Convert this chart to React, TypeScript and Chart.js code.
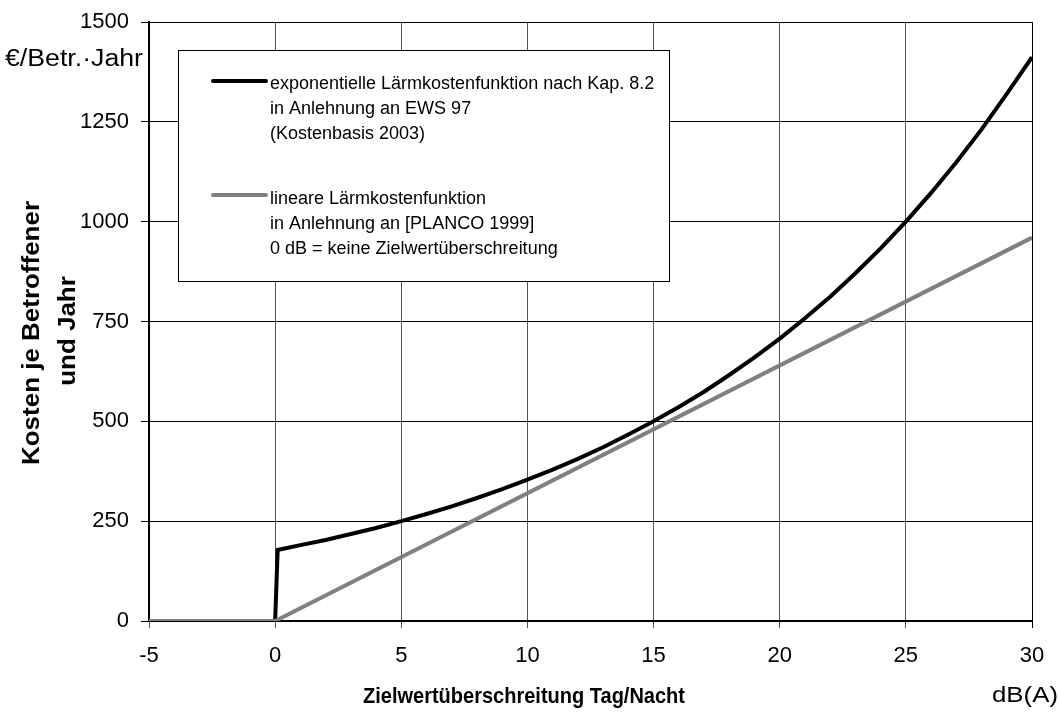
import React, { useEffect, useRef } from "react";
import { Chart, registerables } from "chart.js";

Chart.register(...registerables);

const expX = [-5, 0, 0.1, 1, 2, 3, 4, 5, 6, 7, 8, 9, 10, 11, 12, 13, 14, 15, 16, 17, 18, 19, 20, 21, 22, 23, 24, 25, 26, 27, 28, 29, 30];
const expY = [0, 0, 178, 190, 203, 218, 233, 250, 268, 287, 308, 330, 354, 379, 406, 435, 467, 500, 536, 574, 616, 660, 707, 758, 812, 871, 933, 1000, 1072, 1149, 1231, 1320, 1412];
const linX = [-5, 0, 30];
const linY = [0, 0, 960];

const legendExp = ["exponentielle Lärmkostenfunktion nach Kap. 8.2", "in Anlehnung an EWS 97", "(Kostenbasis 2003)"];
const legendLin = ["lineare Lärmkostenfunktion", "in Anlehnung an [PLANCO 1999]", "0 dB = keine Zielwertüberschreitung"];
const yTitle = ["Kosten je Betroffener", "und Jahr"];
const xTitle = "Zielwertüberschreitung Tag/Nacht";
const unitY = "€/Betr.·Jahr";
const unitX = "dB(A)";

const FONT = "'Liberation Sans', Arial, sans-serif";

function fitText(ctx: any, text: string, x: number, y: number, font: string, width: number, align: "left" | "center") {
  ctx.save();
  ctx.font = font;
  const w = ctx.measureText(text).width;
  const s = width / w;
  ctx.translate(x, y);
  ctx.scale(s, 1);
  ctx.textAlign = align;
  ctx.textBaseline = "middle";
  ctx.fillText(text, 0, 0);
  ctx.restore();
}

export default function App() {
  const ref = useRef<HTMLCanvasElement | null>(null);
  useEffect(() => {
    if (!ref.current) return;
    const overlay = {
      id: "overlay",
      afterDatasetsDraw(chart: any) {
        const ctx = chart.ctx;
        ctx.save();
        ctx.fillStyle = "#fff";
        ctx.fillRect(178, 50, 491, 231);
        ctx.strokeStyle = "#000";
        ctx.lineWidth = 1;
        ctx.strokeRect(178.5, 50.5, 491, 231);
        ctx.lineWidth = 4;
        ctx.lineCap = "round";
        ctx.strokeStyle = "#000";
        ctx.beginPath();
        ctx.moveTo(213, 81);
        ctx.lineTo(266, 81);
        ctx.stroke();
        ctx.strokeStyle = "#808080";
        ctx.beginPath();
        ctx.moveTo(213, 195);
        ctx.lineTo(266, 195);
        ctx.stroke();
        ctx.fillStyle = "#000";
        ctx.font = "18px " + FONT;
        ctx.textAlign = "left";
        ctx.textBaseline = "middle";
        legendExp.forEach((t, i) => ctx.fillText(t, 270, 84 + i * 25));
        legendLin.forEach((t, i) => ctx.fillText(t, 270, 199 + i * 25));
        ctx.restore();
      },
      afterDraw(chart: any) {
        const ctx = chart.ctx;
        ctx.save();
        ctx.fillStyle = "#000";
        fitText(ctx, unitY, 5, 60, "23px " + FONT, 138, "left");
        fitText(ctx, unitX, 1025, 696, "22px " + FONT, 66, "center");
        fitText(ctx, xTitle, 524, 697, "bold 22px " + FONT, 322, "center");
        ctx.font = "bold 24px " + FONT;
        const ratio = 264 / ctx.measureText(yTitle[0]).width;
        const w2 = ctx.measureText(yTitle[1]).width * ratio;
        ctx.save();
        ctx.translate(32, 333);
        ctx.rotate(-Math.PI / 2);
        fitText(ctx, yTitle[0], 0, 0, "bold 24px " + FONT, 264, "center");
        ctx.restore();
        ctx.save();
        ctx.translate(68, 331);
        ctx.rotate(-Math.PI / 2);
        fitText(ctx, yTitle[1], 0, 0, "bold 24px " + FONT, w2, "center");
        ctx.restore();
        ctx.restore();
      },
    };
    const chart = new Chart(ref.current, {
      type: "scatter",
      data: {
        datasets: [
          {
            data: linX.map((x, i) => ({ x, y: linY[i] })),
            showLine: true,
            borderColor: "#808080",
            borderWidth: 4,
            pointRadius: 0,
            tension: 0,
          },
          {
            data: expX.map((x, i) => ({ x, y: expY[i] })),
            showLine: true,
            borderColor: "#000",
            borderWidth: 4,
            pointRadius: 0,
            tension: 0,
          },
        ],
      },
      plugins: [overlay],
      options: {
        responsive: false,
        animation: false,
        devicePixelRatio: 1,
        layout: { padding: { left: 0, top: 22, right: 28, bottom: 0 } },
        plugins: { legend: { display: false }, tooltip: { enabled: false } },
        scales: {
          x: {
            type: "linear",
            min: -5,
            max: 30,
            afterFit: (s: any) => { s.height = 95; s.paddingLeft = 0; s.paddingRight = 0; },
            ticks: {
              stepSize: 5,
              color: "#000",
              font: { family: FONT, size: 22 },
              padding: 15,
              maxRotation: 0,
              callback: (v: any) => String(v),
            },
            grid: {
              color: (c: any) => (c.tick && c.tick.value === 30 ? "#000" : "#555"),
              lineWidth: 1,
              tickLength: 7,
            },
            border: { color: "#000", width: 2 },
          },
          y: {
            type: "linear",
            min: 0,
            max: 1500,
            afterFit: (s: any) => { s.width = 149; s.paddingTop = 0; s.paddingBottom = 0; },
            ticks: {
              stepSize: 250,
              color: "#000",
              font: { family: FONT, size: 22 },
              padding: 12,
              callback: (v: any) => String(v),
            },
            grid: { color: "#000", lineWidth: 1, tickLength: 8 },
            border: { color: "#000", width: 2 },
          },
        },
      },
    });
    return () => chart.destroy();
  }, []);
  return (
    <canvas
      ref={ref}
      width={1060}
      height={716}
      style={{ position: "absolute", left: 0, top: 0, width: 1060, height: 716, background: "#fff" }}
    />
  );
}
